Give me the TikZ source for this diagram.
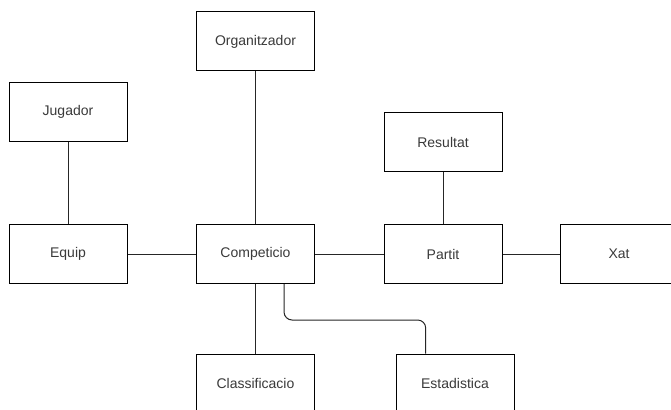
\documentclass[tikz,border=0pt]{standalone}
\usepackage{fontspec}
\setmainfont{Liberation Sans}
\definecolor{txtgrey}{HTML}{3A3A3A}
\tikzset{
  entity/.style={draw, line width=0.75pt, minimum width=88.5pt, minimum height=44.25pt,
    inner sep=0pt, font=\fontsize{10.5}{12}\selectfont, text=txtgrey},
  link/.style={line width=0.75pt, draw=black!85}
}
\begin{document}
\begin{tikzpicture}[x=0.75pt, y=-0.75pt]
\clip (0,0) rectangle (671,410);
\useasboundingbox (0,0) rectangle (671,410);
\fill[white] (0,0) rectangle (671,410);

\node [entity] (org) at (255.5, 41.5) {Organitzador};
\node [entity] (jug) at (68, 112) {Jugador};
\node [entity] (res) at (443, 142) {Resultat};
\node [entity] (equip) at (68, 254) {Equip};
\node [entity] (comp) at (255.5, 254) {Competicio};
\node [entity] (partit) at (443, 254) {Partit};
\node [entity] (xat) at (619, 254) {Xat};
\node [entity] (classif) at (255.5, 383.5) {Classificacio};
\node [entity] (estad) at (455, 383.5) {Estadistica};

\draw [link] (jug) -- (equip);
\draw [link] (org) -- (comp);
\draw [link] (res) -- (partit);
\draw [link] (equip) -- (comp);
\draw [link] (comp) -- (partit);
\draw [link] (partit) -- (xat);
\draw [link] (comp) -- (classif);
%\draw [link] (comp.south) |- (estad.north);
\draw [link, rounded corners=6pt] ([xshift=21.4pt]comp.south) -- ++(0,36) -| ([xshift=-22pt]estad.north);
\end{tikzpicture}
\end{document}
